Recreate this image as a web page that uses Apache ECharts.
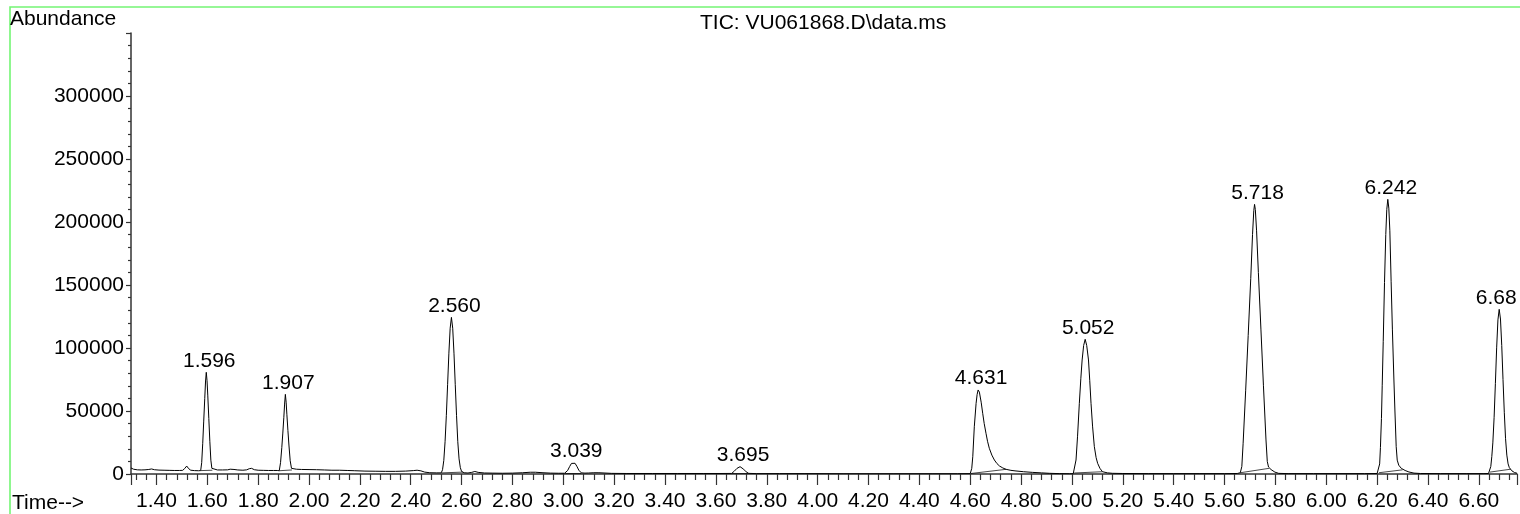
<!DOCTYPE html>
<html>
<head>
<meta charset="utf-8">
<script src="https://cdn.jsdelivr.net/npm/echarts@6/dist/echarts.min.js"></script>
<style>
  html, body { margin: 0; padding: 0; background: #fff; }
  #chart { width: 1520px; height: 514px; }
</style>
</head>
<body>
<div id="chart"></div>
<script>
// ---- Data: [time (min), abundance] ----
const baseStart = [[1.300,4800],[1.310,3800],[1.325,3300],[1.340,3200],[1.355,3300],[1.370,3600],[1.381,4000],[1.392,3400],[1.410,3100],[1.430,3000],[1.450,2900],[1.470,2800],[1.490,2800],[1.503,2900],[1.511,4300],[1.519,6300],[1.527,4200],[1.535,3000],[1.550,2700],[1.565,2600]];
const peak1596 = [[1.574,2700],[1.578,9000],[1.582,24000],[1.586,42000],[1.590,60000],[1.593,73000],[1.596,80700],[1.599,74000],[1.602,62000],[1.606,44000],[1.610,26000],[1.614,11000],[1.618,4500],[1.622,3000]];
const base16 = [[1.640,3200],[1.660,3200],[1.680,3300],[1.690,3800],[1.696,4500],[1.705,3600],[1.720,3200],[1.740,3000],[1.755,3300],[1.765,4200],[1.774,4500],[1.785,3400],[1.800,3000],[1.820,2900],[1.840,2800],[1.860,2800],[1.875,2800]];
const peak1907 = [[1.883,2600],[1.888,9000],[1.893,21000],[1.897,32500],[1.901,45000],[1.904,55500],[1.907,63200],[1.910,57000],[1.913,47000],[1.917,34500],[1.921,23000],[1.926,10500],[1.931,4500],[1.937,3300]];
const base19 = [[1.950,3800],[1.970,3600],[2.000,3500],[2.030,3400],[2.060,3200],[2.090,3000],[2.120,3000],[2.150,2800],[2.180,2600],[2.220,2300],[2.260,2200],[2.300,2100],[2.340,2100],[2.380,2300],[2.410,2700],[2.425,3000],[2.440,2500],[2.455,1500],[2.475,1000],[2.500,900],[2.520,900]];
const peak2560 = [[2.525,3400],[2.530,10800],[2.535,25600],[2.540,46600],[2.545,71200],[2.550,95900],[2.555,115700],[2.560,124300],[2.565,115700],[2.570,95900],[2.575,71200],[2.580,46600],[2.585,25600],[2.590,12000],[2.595,5000],[2.600,2000],[2.610,1000]];
const base26 = [[2.625,800],[2.640,1300],[2.652,2000],[2.665,1300],[2.690,800],[2.720,700],[2.760,600],[2.800,700],[2.840,1000],[2.870,1400],[2.890,1400],[2.920,1000],[2.950,700],[2.980,600],[3.005,600]];
const peak3039 = [[3.007,700],[3.017,2800],[3.025,6000],[3.032,8400],[3.039,9300],[3.046,8500],[3.053,6200],[3.061,3000],[3.071,900]];
const base30 = [[3.085,700],[3.100,800],[3.120,1000],[3.140,1000],[3.160,800],[3.190,500],[3.250,400],[3.350,400],[3.450,400],[3.550,400],[3.620,400],[3.662,450]];
const peak3695 = [[3.672,2200],[3.683,4500],[3.690,5500],[3.695,5800],[3.701,5400],[3.709,3800],[3.719,1700],[3.729,500]];
const base37 = [[3.760,300],[3.850,300],[3.950,300],[4.100,200],[4.300,200],[4.450,200],[4.550,200],[4.600,300]];
const peak4631 = [[4.603,400],[4.606,4500],[4.610,13700],[4.616,37500],[4.623,56000],[4.627,63000],[4.631,66700],[4.636,65000],[4.643,57000],[4.649,48200],[4.655,40000],[4.662,32300],[4.668,26000],[4.675,20400],[4.685,15000],[4.695,11100],[4.705,8300],[4.715,6350],[4.728,4800],[4.741,3700],[4.760,2900],[4.780,2400],[4.810,1800],[4.844,1300],[4.880,900],[4.911,550],[4.950,300],[4.990,200],[5.005,200]];
const peak5052 = [[5.009,800],[5.016,11100],[5.022,30000],[5.029,56100],[5.035,76000],[5.040,90500],[5.046,102000],[5.052,106900],[5.058,102000],[5.065,90500],[5.070,74000],[5.075,56100],[5.081,38000],[5.088,21700],[5.095,13000],[5.101,8500],[5.110,4500],[5.120,1800],[5.140,900],[5.159,550]];
const base51 = [[5.200,400],[5.300,300],[5.400,300],[5.500,300],[5.600,300],[5.650,400]];
const peak5718 = [[5.662,1000],[5.668,6000],[5.673,24000],[5.683,66000],[5.693,110000],[5.703,155000],[5.710,190000],[5.715,209000],[5.718,214000],[5.721,210000],[5.726,193000],[5.733,160000],[5.743,115000],[5.753,70000],[5.763,27000],[5.768,10000],[5.773,5500],[5.783,3500],[5.798,1500],[5.813,500]];
const base58 = [[5.850,300],[5.950,300],[6.050,300],[6.150,300],[6.200,400]];
const peak6242 = [[6.207,1000],[6.210,8000],[6.213,21000],[6.217,44000],[6.220,70000],[6.224,105000],[6.229,152000],[6.234,190000],[6.238,210000],[6.242,218000],[6.246,211000],[6.250,193000],[6.255,153000],[6.260,115000],[6.266,74600],[6.270,50000],[6.275,21700],[6.279,11000],[6.285,7000],[6.295,4500],[6.310,2800],[6.325,1600],[6.345,700],[6.370,400]];
const base63 = [[6.450,300],[6.550,300],[6.620,300],[6.638,400]];
const peak6680 = [[6.643,1500],[6.647,6000],[6.651,14000],[6.655,24700],[6.660,45000],[6.665,71700],[6.670,100100],[6.675,122300],[6.680,130700],[6.685,123000],[6.690,102000],[6.695,75000],[6.700,49000],[6.705,28000],[6.710,15000],[6.715,8000],[6.720,5000],[6.730,2500],[6.740,1200],[6.750,600]];

// Peak annotations
const peakLabels  = ['1.596','1.907','2.560','3.039','3.695','4.631','5.052','5.718','6.242','6.68'];
const peakTimes   = [1.596, 1.907, 2.560, 3.039, 3.695, 4.631, 5.052, 5.718, 6.242, 6.680];
const peakHeights = [80700, 63200, 124300, 9300, 5800, 66700, 106900, 214000, 218000, 130700];

// Integration baselines drawn under the peaks: [startTime, startValue, endTime, endValue]
const integBaselines = [
  [1.574,2700,1.620,3000],[1.883,2600,1.933,3200],[2.522,900,2.605,1500],[3.007,700,3.071,900],
  [3.662,450,3.729,450],[4.603,400,4.741,3700],[5.009,800,5.120,1800],[5.662,1000,5.775,4500],
  [6.207,1000,6.300,3300],[6.643,1500,6.725,3800]
];

// Axis ticks
const yLabelValues = [0, 50000, 100000, 150000, 200000, 250000, 300000];

const trace = [].concat(baseStart, peak1596, base16, peak1907, base19, peak2560, base26,
  peak3039, base30, peak3695, base37, peak4631, peak5052, base51, peak5718, base58,
  peak6242, base63, peak6680);

const FONT = "'Liberation Sans', Arial, Helvetica, sans-serif";
const FS = 21;
const axisColor = '#333';

const chart = echarts.init(document.getElementById('chart'), null, { renderer: 'canvas' });

const labelItems = peakTimes.map((t, i) => ({
  value: [t, peakHeights[i]],
  label: { offset: i === peakTimes.length - 1 ? [-3, 0] : [3, 0] }
}));

chart.setOption({
  animation: false,
  backgroundColor: '#fff',
  grid: { left: 131, right: 2, top: 33, bottom: 40, containLabel: false },
  xAxis: {
    type: 'value',
    min: 1.30, max: 6.75,
    splitNumber: 27, minInterval: 0.2, maxInterval: 0.2,
    axisLine: { show: true, onZero: false, lineStyle: { color: axisColor, width: 1.5 } },
    axisTick: { show: true, inside: false, length: 11, lineStyle: { color: axisColor, width: 1.2 } },
    minorTick: { show: true, splitNumber: 5, length: 6, lineStyle: { color: axisColor, width: 1.2 } },
    splitLine: { show: false },
    minorSplitLine: { show: false },
    axisLabel: {
      show: true, margin: 17, color: '#000', fontSize: FS, fontFamily: FONT,
      formatter: v => (v < 1.35 || v > 6.7) ? '' : v.toFixed(2)
    }
  },
  yAxis: {
    type: 'value',
    min: 0, max: 350000, interval: 50000,
    axisLine: { show: true, onZero: false, lineStyle: { color: axisColor, width: 1.5 } },
    axisTick: { show: true, inside: false, length: 5, lineStyle: { color: axisColor, width: 1.2 } },
    minorTick: { show: true, splitNumber: 5, length: 3, lineStyle: { color: axisColor, width: 1.2 } },
    splitLine: { show: false },
    axisLabel: {
      show: true, margin: 7, color: '#000', fontSize: FS, fontFamily: FONT,
      formatter: v => yLabelValues.indexOf(v) >= 0 ? String(v) : ''
    }
  },
  series: [
    {
      type: 'line',
      data: trace,
      symbol: 'none',
      showSymbol: false,
      smooth: false,
      clip: true,
      lineStyle: { color: '#000', width: 1 },
      silent: true,
      z: 3
    },
    {
      type: 'lines',
      coordinateSystem: 'cartesian2d',
      data: integBaselines.map(b => ({ coords: [[b[0], b[1]], [b[2], b[3]]] })),
      lineStyle: { color: '#000', width: 0.8, opacity: 0.9 },
      silent: true,
      z: 2
    },
    {
      type: 'scatter',
      data: labelItems,
      symbolSize: 0,
      itemStyle: { opacity: 1 },
      silent: true,
      label: {
        show: true, position: 'top', distance: 1, opacity: 1,
        color: '#000', fontSize: FS, fontFamily: FONT, textBorderWidth: 0,
        formatter: p => peakLabels[p.dataIndex]
      },
      z: 4
    }
  ],
  graphic: [
    {
      type: 'rect', silent: true, z: 0,
      shape: { x: 10, y: 7, width: 1540, height: 540 },
      style: { fill: 'none', stroke: '#74f574', lineWidth: 1.6 }
    },
    {
      type: 'text', left: 10, top: 9, silent: true,
      style: { text: 'Abundance', fill: '#000', fontSize: FS, fontFamily: FONT }
    },
    {
      type: 'text', left: 12, top: 493, silent: true,
      style: { text: 'Time-->', fill: '#000', fontSize: FS, fontFamily: FONT }
    },
    {
      type: 'text', left: 700, top: 13, silent: true,
      style: { text: 'TIC: VU061868.D\\data.ms', fill: '#000', fontSize: FS, fontFamily: FONT }
    }
  ]
});
</script>
</body>
</html>
